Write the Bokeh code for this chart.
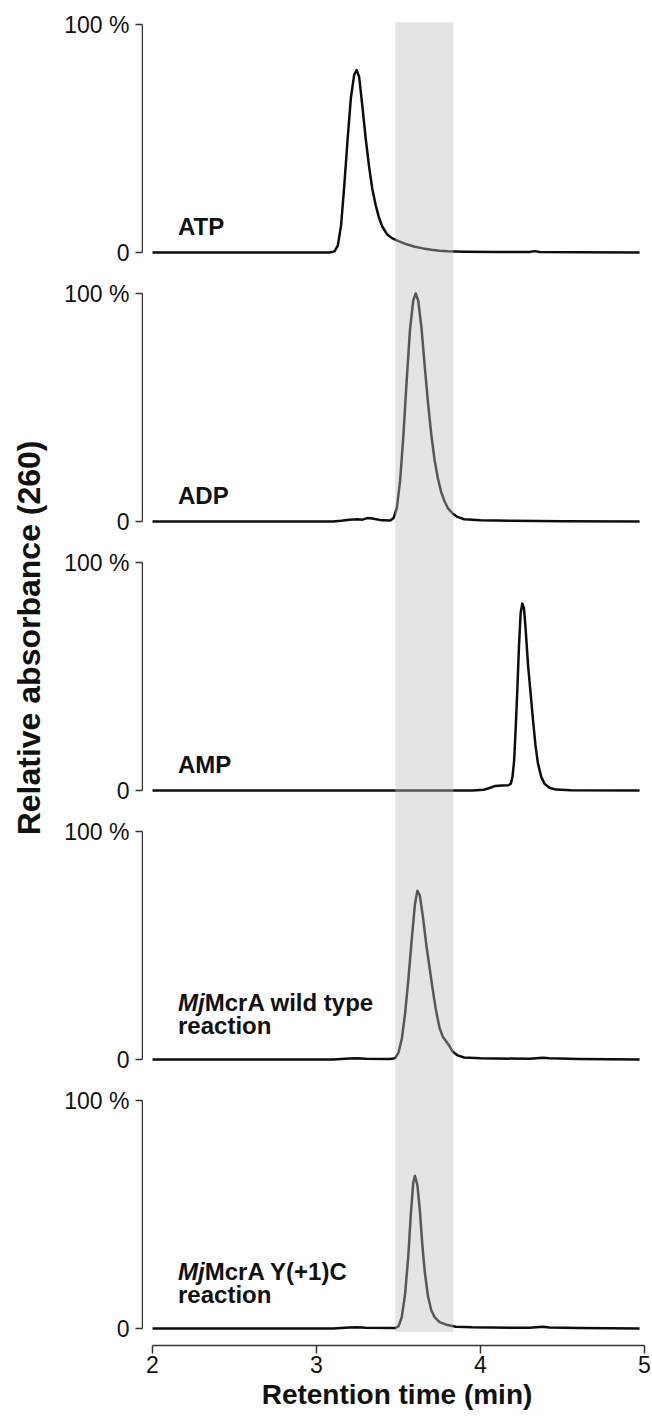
import math
from bokeh.plotting import figure
from bokeh.layouts import row, column
from bokeh.models import Range1d, BoxAnnotation, FixedTicker
from bokeh.core.properties import value
from bokeh.embed import file_html
from bokeh.resources import INLINE

# ---------------- data ----------------
TIME_ATP = [2.00, 3.08, 3.11, 3.13, 3.15, 3.17, 3.19, 3.21, 3.23, 3.245, 3.26, 3.28, 3.30,
            3.32, 3.34, 3.36, 3.38, 3.40, 3.43, 3.46, 3.50, 3.55, 3.60, 3.65, 3.70, 3.75,
            3.80, 3.90, 4.10, 4.30, 4.33, 4.36, 4.60, 4.97]
ABS_ATP = [0, 0, 0.5, 3, 12, 30, 50, 68, 78, 80, 77, 64, 50,
           38, 28, 21, 15.5, 11.5, 8, 6.3, 5, 3.6, 2.5, 1.8, 1.2, 0.8,
           0.5, 0.3, 0.2, 0.2, 0.6, 0.2, 0.1, 0]

TIME_ADP = [2.00, 3.10, 3.15, 3.20, 3.25, 3.28, 3.31, 3.34, 3.40, 3.45, 3.47, 3.49, 3.51,
            3.53, 3.55, 3.57, 3.59, 3.605, 3.62, 3.64, 3.66, 3.68, 3.70, 3.72, 3.74, 3.76,
            3.78, 3.80, 3.83, 3.86, 3.90, 4.00, 4.20, 4.50, 4.97]
ABS_ADP = [0, 0, 0.3, 0.8, 1.0, 0.8, 1.5, 1.3, 0.5, 0.4, 1.5, 6, 18,
           38, 62, 84, 97, 100, 97, 85, 68, 52, 38, 27, 19, 13,
           9, 6, 3.5, 2, 1, 0.5, 0.3, 0.1, 0]

TIME_AMP = [2.00, 3.95, 4.02, 4.06, 4.09, 4.13, 4.17, 4.185, 4.195, 4.205, 4.215, 4.225,
            4.235, 4.245, 4.255, 4.265, 4.275, 4.29, 4.305, 4.32, 4.335, 4.35, 4.37, 4.39,
            4.42, 4.46, 4.55, 4.97]
ABS_AMP = [0, 0, 0.3, 1.2, 2.0, 2.2, 2.3, 3, 6, 13, 28, 45,
           64, 78, 82, 80, 71, 55, 43, 31, 20, 12, 6, 3,
           1.2, 0.4, 0.1, 0]

TIME_WT = [2.00, 3.10, 3.20, 3.25, 3.30, 3.45, 3.48, 3.50, 3.52, 3.54, 3.56, 3.58, 3.60,
           3.615, 3.63, 3.65, 3.67, 3.69, 3.71, 3.73, 3.75, 3.77, 3.79, 3.81, 3.83, 3.86,
           3.90, 4.00, 4.30, 4.38, 4.42, 4.60, 4.97]
ABS_WT = [0, 0, 0.4, 0.6, 0.3, 0.2, 0.6, 3, 9, 20, 35, 52, 68,
          74, 72, 62, 50, 40, 30, 21, 14, 10, 8, 6, 3.5, 1.8,
          0.9, 0.5, 0.3, 0.8, 0.5, 0.2, 0]

TIME_Y1C = [2.00, 3.10, 3.20, 3.25, 3.30, 3.48, 3.50, 3.52, 3.54, 3.56, 3.575, 3.59, 3.60,
            3.615, 3.63, 3.645, 3.66, 3.68, 3.70, 3.72, 3.75, 3.80, 3.85, 3.95, 4.30, 4.38,
            4.42, 4.60, 4.97]
ABS_Y1C = [0, 0, 0.4, 0.5, 0.3, 0.2, 1, 5, 15, 32, 50, 64, 67,
           63, 52, 37, 25, 14, 8, 5, 2.8, 1.5, 0.8, 0.5, 0.3, 0.8,
           0.4, 0.2, 0]

TRACES = [(TIME_ATP, ABS_ATP), (TIME_ADP, ABS_ADP), (TIME_AMP, ABS_AMP),
          (TIME_WT, ABS_WT), (TIME_Y1C, ABS_Y1C)]

LABEL_PREFIX = ["", "", "", "Mj", "Mj"]
LABEL_LINE1 = ["ATP", "ADP", "AMP", "McrA wild type", "McrA Y(+1)C"]
LABEL_LINE2 = ["", "", "", "reaction", "reaction"]

BAND_START, BAND_END = 3.48, 3.835
X_TICKS = [2, 3, 4, 5]
Y_TICKS = [0, 100]
Y_TICK_LABELS = {0: "0", 100: "100 %"}
X_TITLE = "Retention time (min)"
Y_TITLE = "Relative absorbance (260)"

# ---------------- layout ----------------
FONT = "Liberation Sans"
TXT = "#111111"
AXC = "#333333"
TOTAL_W, TOTAL_H = 652, 1418
LEFT_W = 50            # column holding the vertical title
AXIS_W = 93            # column holding the per-panel y axes (frame 1 px wide)
MAIN_W = TOTAL_W - LEFT_W - AXIS_W
BORDER_R = 2
PX_PER_MIN = 164.0
PANEL_H = 269
PX_PER_UNIT = 2.28
TOP_PAD = 24           # px from panel top to 100 %
ZERO_FROM_TOP = 252    # px from panel top to 0
BOTTOM_EXTRA = 73
n = len(TRACES)

y_start = -(PANEL_H - ZERO_FROM_TOP) / PX_PER_UNIT
y_end = 100 + TOP_PAD / PX_PER_UNIT
panel_units = PANEL_H / PX_PER_UNIT

# ---------- per-panel y axes ----------
axis_figs = []
for i in range(n):
    last = i == n - 1
    a = figure(width=AXIS_W, height=PANEL_H + (BOTTOM_EXTRA if last else 0),
               x_range=Range1d(0, 1), y_range=Range1d(y_start, y_end),
               output_backend="svg", toolbar_location=None, x_axis_location=None,
               min_border_left=AXIS_W - 1, min_border_right=0, min_border_top=0,
               min_border_bottom=BOTTOM_EXTRA if last else 0)
    a.grid.visible = False
    a.outline_line_color = None
    yax = a.yaxis[0]
    yax.ticker = FixedTicker(ticks=Y_TICKS)
    yax.major_label_overrides = Y_TICK_LABELS
    yax.bounds = (0, 100)
    yax.axis_line_color = AXC
    yax.axis_line_width = 1.5
    yax.major_tick_line_color = AXC
    yax.major_tick_line_width = 1.5
    yax.major_tick_in = 0
    yax.major_tick_out = 7
    yax.minor_tick_line_color = None
    yax.major_label_standoff = 6
    yax.major_label_text_font = FONT
    yax.major_label_text_font_size = "23px"
    yax.major_label_text_color = TXT
    axis_figs.append(a)

# ---------- main plotting area (all five traces stacked) ----------
frame_w = MAIN_W - BORDER_R
x_start = 2 - (152 - (LEFT_W + AXIS_W)) / PX_PER_MIN
x_end = x_start + frame_w / PX_PER_MIN
main_frame_h = TOTAL_H - BOTTOM_EXTRA
m = figure(width=MAIN_W, height=TOTAL_H,
           x_range=Range1d(x_start, x_end),
           y_range=Range1d(y_start, y_start + main_frame_h / PX_PER_UNIT),
           output_backend="svg", toolbar_location=None, y_axis_location=None,
           min_border_left=0, min_border_right=BORDER_R, min_border_top=0,
           min_border_bottom=BOTTOM_EXTRA)
m.grid.visible = False
m.outline_line_color = None

offsets = [(n - 1 - i) * panel_units for i in range(n)]
style = dict(text_font=value(FONT), text_font_size="24px", text_color=TXT,
             text_align="left", text_baseline="middle")
lx = 2 + 25.5 / PX_PER_MIN
for i, (t, v) in enumerate(TRACES):
    off = offsets[i]
    m.line(t, [val + off for val in v], line_color="#0d0d0d", line_width=2.5,
           line_join="round")
    two = LABEL_LINE2[i] != ""
    y1 = off + (57 if two else 26) / PX_PER_UNIT
    y2 = off + 34 / PX_PER_UNIT
    dx = 0
    if LABEL_PREFIX[i]:
        m.text(x=[lx], y=[y1], text=[LABEL_PREFIX[i]], text_font_style="bold italic", **style)
        dx = 26.7
    m.text(x=[lx], y=[y1], text=[LABEL_LINE1[i]], x_offset=dx,
           text_font_style="bold", **style)
    if two:
        m.text(x=[lx], y=[y2], text=[LABEL_LINE2[i]], text_font_style="bold", **style)

# shaded retention window, over the traces
m.add_layout(BoxAnnotation(left=BAND_START, right=BAND_END,
                           top=offsets[0] + 101, bottom=offsets[-1] - 1.5,
                           fill_color="#bdbfc4", fill_alpha=0.42, line_color=None))

xax = m.xaxis[0]
xax.ticker = FixedTicker(ticks=X_TICKS)
xax.bounds = (2, 5)
xax.axis_line_color = AXC
xax.axis_line_width = 1.5
xax.major_tick_line_color = AXC
xax.major_tick_line_width = 1.5
xax.major_tick_in = 0
xax.major_tick_out = 8
xax.minor_tick_line_color = None
xax.major_label_standoff = 2
xax.major_label_text_font = FONT
xax.major_label_text_font_size = "23px"
xax.major_label_text_color = TXT
xax.axis_label = X_TITLE
xax.axis_label_text_font = FONT
xax.axis_label_text_font_style = "bold"
xax.axis_label_text_font_size = "28px"
xax.axis_label_text_color = TXT
xax.axis_label_standoff = 3

# ---------- vertical title ----------
lab = figure(width=LEFT_W, height=TOTAL_H, x_range=Range1d(0, LEFT_W),
             y_range=Range1d(0, TOTAL_H), output_backend="svg",
             toolbar_location=None, x_axis_location=None, y_axis_location=None,
             min_border=0)
lab.grid.visible = False
lab.outline_line_color = None
lab.text(x=[28], y=[TOTAL_H - 672], text=[Y_TITLE], angle=math.pi / 2,
         text_font=value(FONT), text_font_style="bold", text_font_size="32px",
         text_color=TXT, text_align="center", text_baseline="middle")

layout = row(lab, column(*axis_figs, spacing=0), m, spacing=0)
open("out.html", "w").write(file_html(layout, INLINE))
